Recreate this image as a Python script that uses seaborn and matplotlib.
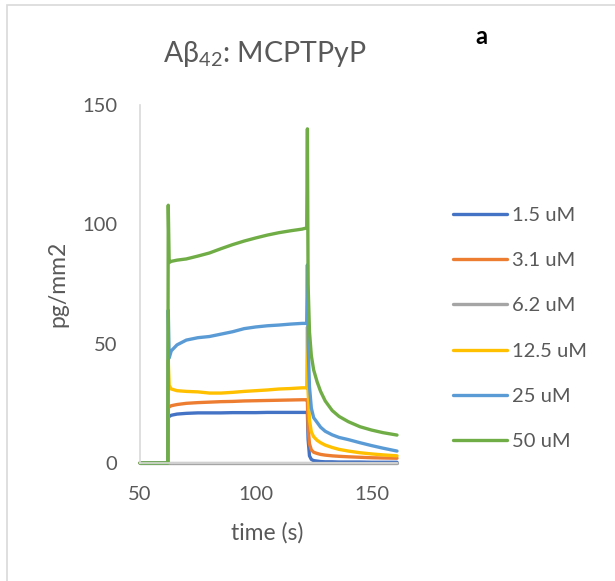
import matplotlib
matplotlib.use("Agg")
import matplotlib.pyplot as plt
import seaborn as sns
import pandas as pd
from matplotlib.patches import Rectangle

# ---------------- data ----------------
time_s = [50, 62.0, 62.2, 62.6, 63.5, 66, 70, 75, 80, 85, 90, 95, 100, 105, 110,
          115, 120, 122.0, 122.3, 122.6, 123.2, 124, 125, 126.5, 128, 130, 133,
          136, 140, 145, 150, 155, 161]

c_1_5 = [0, 0, 19, 19.5, 20, 20.5, 20.8, 21, 21, 21, 21.1, 21.1, 21.1, 21.2, 21.2,
         21.2, 21.2, 21.2, 21, 10, 3, 1.5, 1, 0.8, 0.6, 0.5, 0.5,
         0.4, 0.4, 0.4, 0.3, 0.3, 0.3]
c_3_1 = [0, 0, 23, 23.5, 24, 24.5, 25, 25.3, 25.5, 25.7, 25.8, 26, 26.1, 26.2, 26.3,
         26.4, 26.5, 26.5, 26, 15, 8, 5.5, 4.5, 4, 3.6, 3.3, 3,
         2.8, 2.6, 2.4, 2.2, 2.1, 2]
c_6_2 = [0] * len(time_s)
c_12_5 = [0, 0, 43, 32.5, 31, 30.3, 30, 29.8, 29.3, 29.3, 29.6, 30, 30.3, 30.6, 31,
          31.2, 31.5, 31.5, 57, 30, 18, 13, 11, 9.5, 8.5, 7.5, 6.5,
          5.7, 5, 4.3, 3.8, 3.4, 3]
c_25 = [0, 0, 64, 44, 47, 49.5, 51.5, 52.5, 53, 54, 55, 56.3, 57, 57.5, 57.8,
        58.2, 58.5, 58.5, 83, 50, 32, 23, 19, 17, 15, 13.3, 11.8,
        10.7, 9.8, 8.5, 7.3, 6.2, 5]
c_50 = [0, 0, 108, 84, 84.5, 85, 85.5, 86.7, 88, 89.8, 91.5, 93, 94.3, 95.5, 96.5,
        97.3, 98, 98.5, 140, 75, 55, 45, 39, 34, 30, 26, 22,
        19.5, 17.3, 15.2, 13.8, 12.7, 11.7]

series_labels = ["1.5 uM", "3.1 uM", "6.2 uM", "12.5 uM", "25 uM", "50 uM"]
series_values = [c_1_5, c_3_1, c_6_2, c_12_5, c_25, c_50]
series_colors = ["#4472C4", "#ED7D31", "#A5A5A5", "#FFC000", "#5B9BD5", "#70AD47"]

x_ticks = [50, 100, 150]
y_ticks = [0, 50, 100, 150]

frames = []
for lab, vals in zip(series_labels, series_values):
    frames.append(pd.DataFrame({"time (s)": time_s, "pg/mm2": vals, "conc": lab}))
df = pd.concat(frames, ignore_index=True)

# ---------------- style ----------------
sns.set_theme(style="white")
plt.rcParams["font.family"] = ["Lato", "DejaVu Sans"]
plt.rcParams["mathtext.fontset"] = "custom"
plt.rcParams["mathtext.rm"] = "Lato"
plt.rcParams["mathtext.it"] = "Lato"
TXT = "#595959"
AX = "#D9D9D9"

W, H = 615, 581
fig = plt.figure(figsize=(W / 100, H / 100), dpi=100)
ax = fig.add_axes([140 / W, 1 - 463 / H, 257 / W, 358 / H])

sns.lineplot(data=df, x="time (s)", y="pg/mm2", hue="conc",
             hue_order=series_labels, palette=series_colors,
             estimator=None, sort=False, linewidth=2.4, ax=ax)
for ln in ax.lines:
    ln.set_solid_capstyle("round")
    ln.set_solid_joinstyle("round")
    ln.set_clip_on(False)

ax.set_xlim(50, 161)
ax.set_ylim(0, 150)
ax.set_xticks(x_ticks)
ax.set_yticks(y_ticks)
ax.tick_params(axis="both", length=0, labelsize=14.5, labelcolor=TXT, pad=16.5)
for s in ["top", "right"]:
    ax.spines[s].set_visible(False)
for s in ["left", "bottom"]:
    ax.spines[s].set_color(AX)
    ax.spines[s].set_linewidth(1.2)

ax.set_xlabel("time (s)", fontsize=16.5, color=TXT)
ax.set_ylabel("pg/mm2", fontsize=16.5, color=TXT)
ax.xaxis.label.set_va("center")
ax.yaxis.label.set_va("center")
ax.xaxis.set_label_coords((267 - 140) / 257, (463 - 533) / 358)
ax.yaxis.set_label_coords((58 - 140) / 257, 0.5)

# legend
handles, labels = ax.get_legend_handles_labels()
for h in handles:
    h.set_linewidth(2.4)
    h.set_solid_capstyle("round")
leg = ax.legend(handles, labels, loc="center left",
                bbox_to_anchor=(453 / W, 1 - 328.5 / H),
                bbox_transform=fig.transFigure, frameon=False,
                fontsize=14.5, handlelength=2.7, handletextpad=0.25,
                labelspacing=1.4, borderpad=0, borderaxespad=0)
for t in leg.get_texts():
    t.set_color(TXT)

# title and panel letter
fig.text(265 / W, 1 - 54 / H, r"A$\mathregular{\beta_{42}}$: MCPTPyP",
         ha="center", va="center", fontsize=20.5, color=TXT)
fig.text(481 / W, 1 - 36 / H, "a", ha="center", va="center",
         fontsize=17, fontweight="bold", color="black")

# outer chart border
fig.patches.append(Rectangle((7 / W, -0.05), 1.2, 1 - 5 / H + 0.05,
                             transform=fig.transFigure, fill=False,
                             edgecolor=AX, linewidth=1.2))

fig.savefig("out.png", dpi=100)
